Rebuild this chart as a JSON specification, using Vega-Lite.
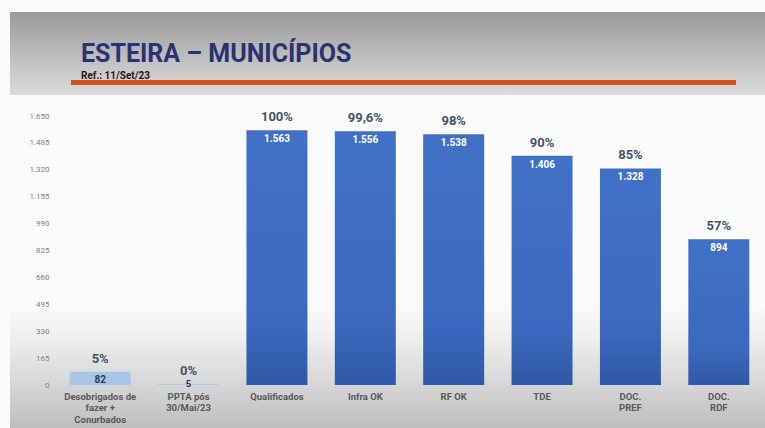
{
  "$schema": "https://vega.github.io/schema/vega-lite/v6.json",
  "padding": {"left": 9, "top": 12, "right": 0, "bottom": 0},
  "background": "#fbfbfb",
  "spacing": 16,
  "config": {
    "locale": {"number": {"decimal": ",", "thousands": ".", "grouping": [3], "currency": ["R$", ""]}},
    "font": "Roboto",
    "view": {"stroke": null}
  },
  "vconcat": [
    {
      "width": 707,
      "height": 83,
      "title": {
        "text": "ESTEIRA – MUNICÍPIOS",
        "subtitle": "Ref.: 11/Set/23",
        "anchor": "start",
        "frame": "group",
        "offset": -69,
        "dx": 25,
        "font": "Roboto",
        "fontSize": 25,
        "fontWeight": "bold",
        "color": "#2B3270",
        "subtitleFont": "Roboto",
        "subtitleFontSize": 10,
        "subtitleFontWeight": "bold",
        "subtitleColor": "#1a1a1a",
        "subtitlePadding": 4
      },
      "data": {"values": [{}]},
      "layer": [
        {
          "mark": {"type": "rect", "clip": false,
            "fill": {"gradient": "linear", "x1": 0, "y1": 0, "x2": 0, "y2": 1,
              "stops": [{"offset": 0, "color": "#9a9a9a"}, {"offset": 1, "color": "#dcdcdc"}]}},
          "encoding": {
            "x": {"datum": -0.0651, "type": "quantitative", "scale": {"domain": [0, 1]}, "axis": null},
            "x2": {"datum": 1.0043},
            "y": {"datum": 0, "type": "quantitative", "scale": {"domain": [0, 1]}, "axis": null},
            "y2": {"datum": 1}
          }
        },
        {
          "mark": {"type": "rule", "color": "#D5511C", "strokeWidth": 5},
          "encoding": {
            "x": {"datum": 0.0212, "type": "quantitative", "scale": {"domain": [0, 1]}, "axis": null},
            "x2": {"datum": 0.9618},
            "y": {"datum": 0.15, "type": "quantitative", "scale": {"domain": [0, 1]}, "axis": null}
          }
        }
      ]
    },
    {
      "width": 707,
      "height": 269,
      "resolve": {"scale": {"x": "independent"}},
      "layer": [
        {
          "data": {"values": [{}]},
          "mark": {"type": "rect", "clip": false,
            "fill": {"gradient": "linear", "x1": 0, "y1": 0, "x2": 0, "y2": 1,
              "stops": [
                {"offset": 0, "color": "rgba(128,128,128,0)"},
                {"offset": 0.29, "color": "rgba(128,128,128,0.11)"},
                {"offset": 0.65, "color": "rgba(128,128,128,0.3)"},
                {"offset": 1, "color": "rgba(128,128,128,0.5)"}
              ]}},
          "encoding": {
            "x": {"datum": -0.0651, "type": "quantitative", "scale": {"domain": [0, 1]}, "axis": null},
            "x2": {"datum": 1.0043},
            "y": {
              "datum": 500, "type": "quantitative", "scale": {"domain": [0, 1650], "nice": false},
              "axis": {
                "title": null, "values": [0, 165, 330, 495, 660, 825, 990, 1155, 1320, 1485, 1650],
                "format": ",d", "labelFontSize": 8, "labelColor": "#7f7f7f", "ticks": false,
                "domain": false, "gridColor": "#d9d9d9", "labelPadding": 7, "minExtent": 46, "maxExtent": 46
              }
            },
            "y2": {"datum": -270}
          }
        },
        {
          "data": {
            "values": [
              {"stage": "Desobrigados de|fazer +|Conurbados", "value": 82, "pct": "5%"},
              {"stage": "PPTA pós|30/Mai/23", "value": 5, "pct": "0%"},
              {"stage": "Qualificados", "value": 1563, "pct": "100%"},
              {"stage": "Infra OK", "value": 1556, "pct": "99,6%"},
              {"stage": "RF OK", "value": 1538, "pct": "98%"},
              {"stage": "TDE", "value": 1406, "pct": "90%"},
              {"stage": "DOC.|PREF", "value": 1328, "pct": "85%"},
              {"stage": "DOC.|RDF", "value": 894, "pct": "57%"}
            ]
          },
          "encoding": {
            "x": {
              "field": "stage", "type": "nominal", "sort": null,
              "scale": {"paddingInner": 0.31, "paddingOuter": 0.155},
              "axis": {
                "title": null, "labelAngle": 0, "labelFontWeight": "bold", "labelFontSize": 9.5,
                "labelColor": "#595959", "labelPadding": 6, "ticks": false, "domain": false,
                "labelExpr": "split(datum.label, '|')", "labelLineHeight": 11.5, "zindex": 1
              }
            },
            "y": {
              "field": "value", "type": "quantitative",
              "scale": {"domain": [0, 1650], "nice": false},
              "axis": {
                "title": null, "values": [0, 165, 330, 495, 660, 825, 990, 1155, 1320, 1485, 1650],
                "format": ",d", "labelFontSize": 8, "labelColor": "#7f7f7f", "ticks": false,
                "domain": false, "gridColor": "#d9d9d9", "labelPadding": 7, "minExtent": 46, "maxExtent": 46
              }
            }
          },
          "layer": [
            {
              "mark": {"type": "bar"},
              "encoding": {
                "fill": {
                  "condition": {"test": "datum.value < 100", "value": "#A7C5E8"},
                  "value": {"gradient": "linear", "x1": 0, "y1": 0, "x2": 0, "y2": 1,
                    "stops": [{"offset": 0, "color": "#4171C6"}, {"offset": 0.75, "color": "#3C69BF"}, {"offset": 1, "color": "#2F58A6"}]}
                }
              }
            },
            {
              "mark": {"type": "text", "baseline": "bottom", "dy": -6, "fontSize": 13, "fontWeight": "bold", "color": "#44546A"},
              "encoding": {"text": {"field": "pct"}}
            },
            {
              "transform": [{"filter": "datum.value >= 100"}],
              "mark": {"type": "text", "baseline": "top", "dy": 4, "fontSize": 10, "fontWeight": "bold", "color": "#ffffff"},
              "encoding": {"text": {"field": "value", "format": ",d"}}
            },
            {
              "transform": [{"filter": "datum.value >= 50 && datum.value < 100"}],
              "mark": {"type": "text", "baseline": "top", "dy": 3, "fontSize": 10, "fontWeight": "bold", "color": "#2F3B52"},
              "encoding": {"text": {"field": "value", "format": ",d"}}
            },
            {
              "transform": [{"filter": "datum.value < 50"}],
              "mark": {"type": "text", "baseline": "bottom", "dy": 5, "fontSize": 9.5, "fontWeight": "bold", "color": "#333333"},
              "encoding": {"text": {"field": "value", "format": ",d"}}
            }
          ]
        }
      ]
    }
  ]
}
